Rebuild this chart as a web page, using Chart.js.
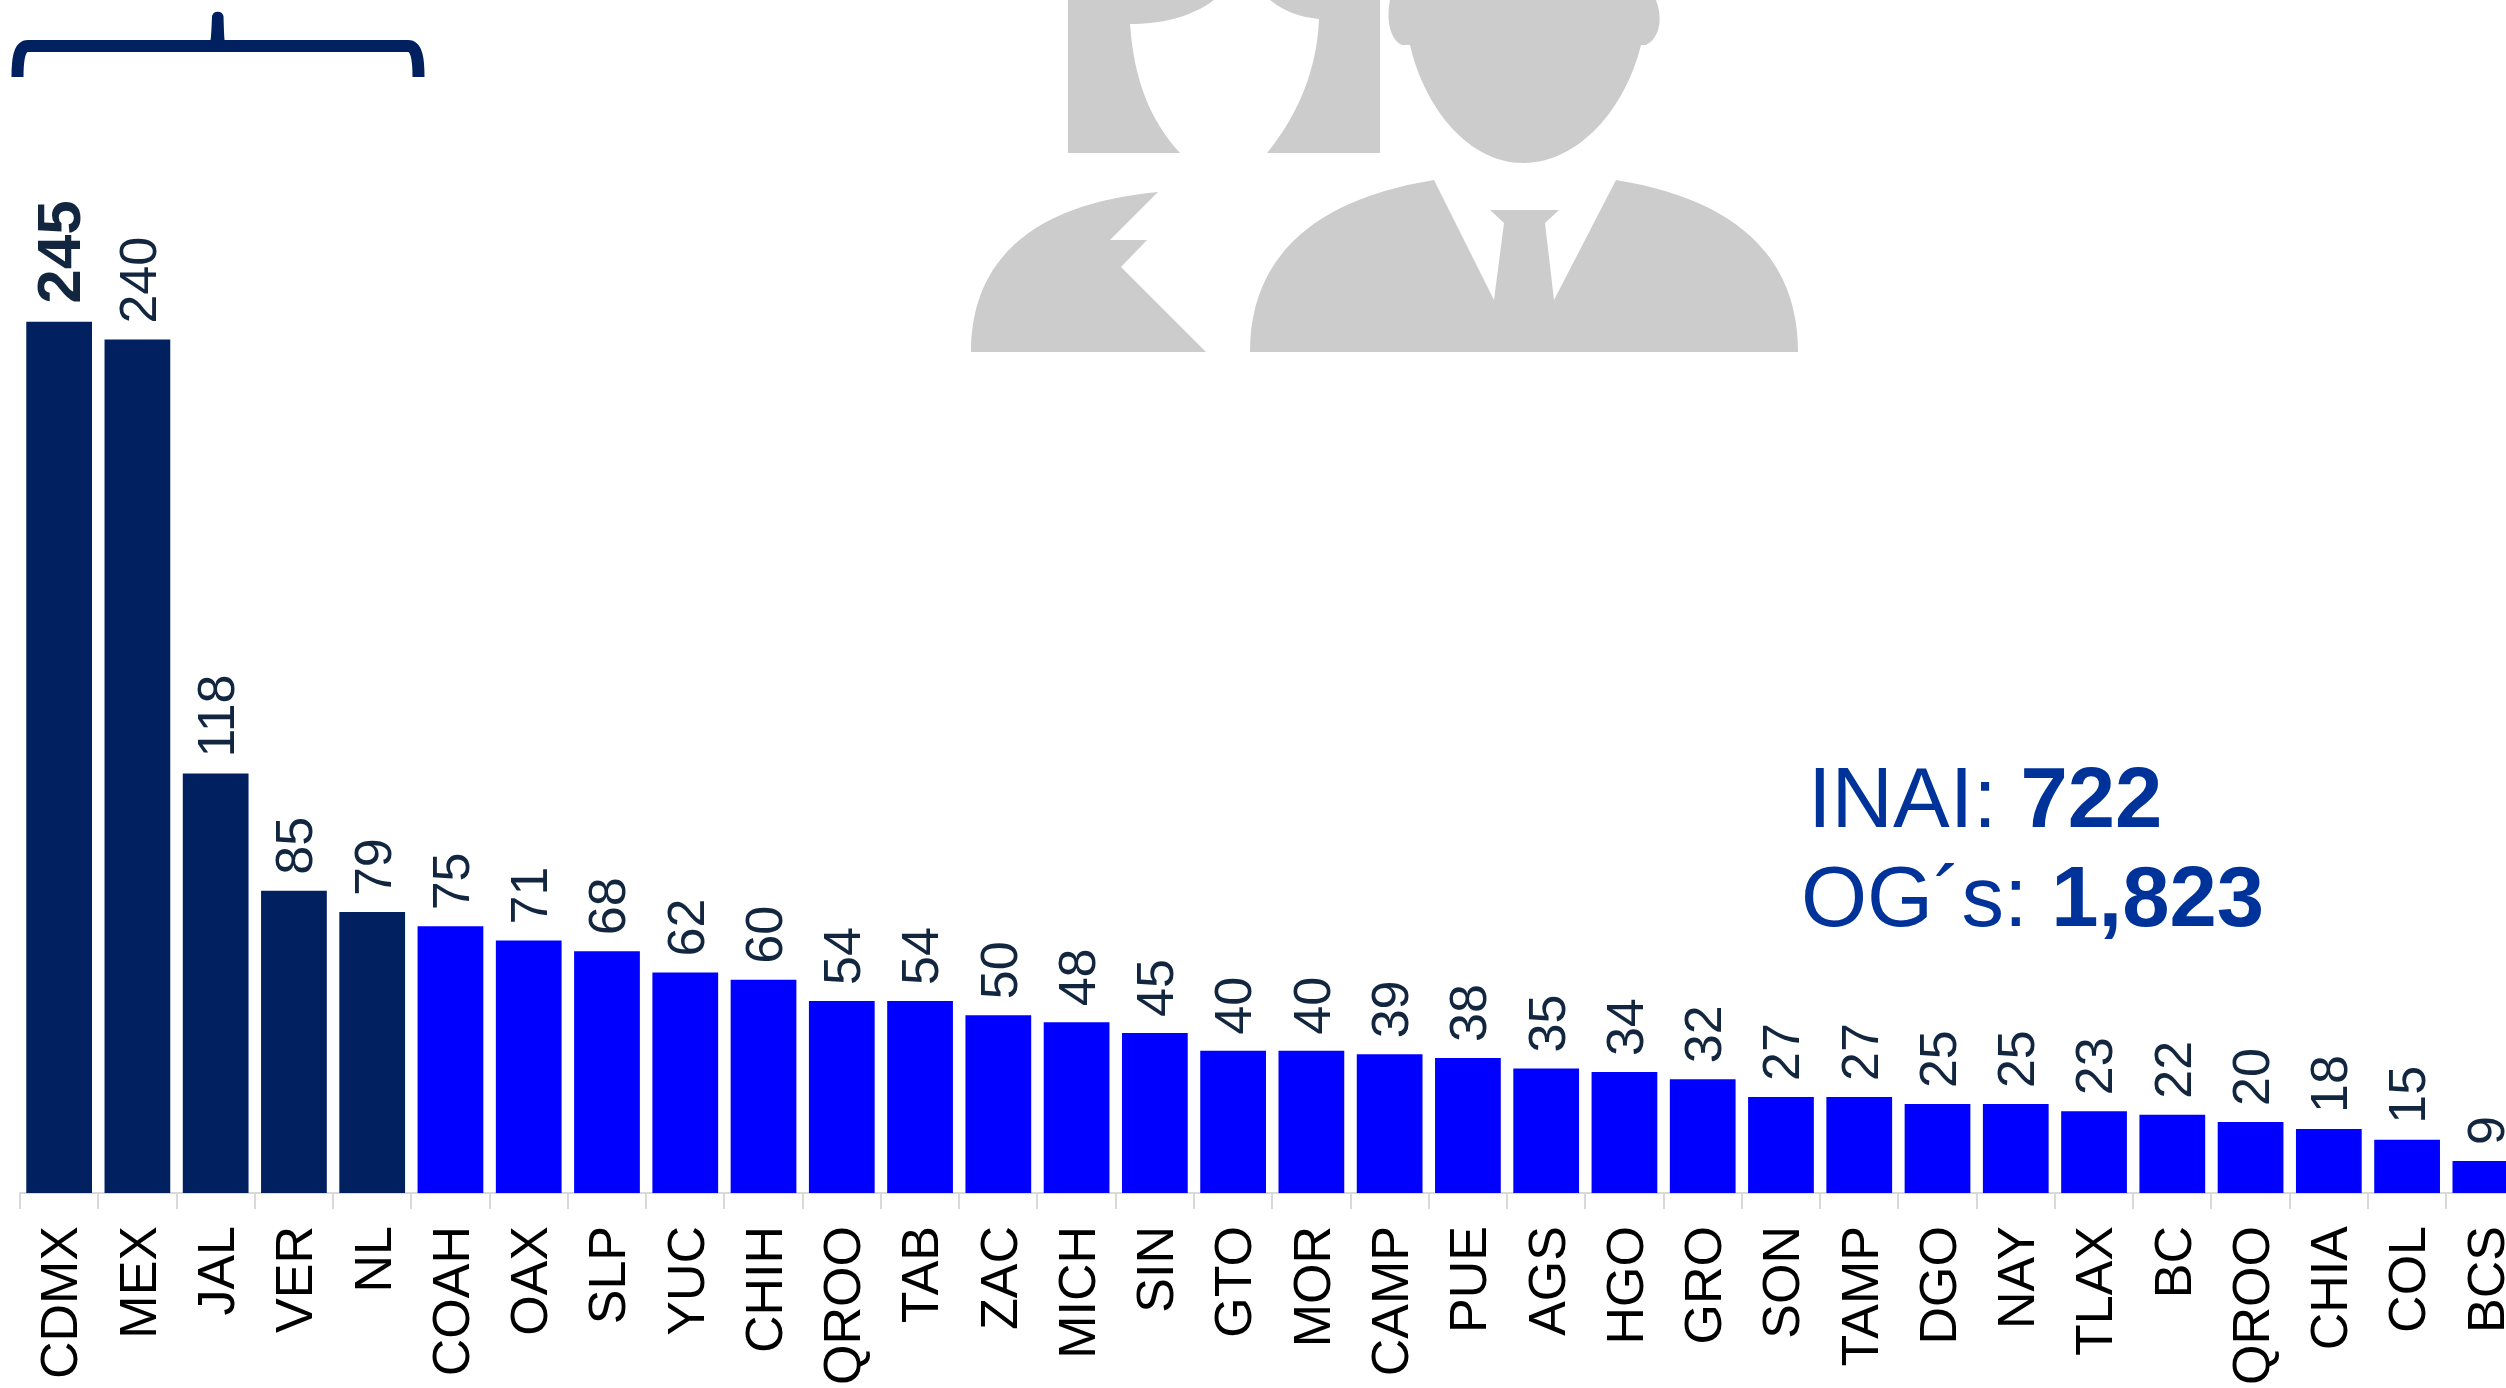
<!DOCTYPE html>
<html lang="es">
<head>
<meta charset="utf-8">
<title>Solicitudes por entidad</title>
<script src="https://cdn.jsdelivr.net/npm/chart.js@4"></script>
<style>
  html, body { margin: 0; padding: 0; background: #fff; }
  body { position: relative; width: 2506px; height: 1388px; overflow: hidden; font-family: "Liberation Sans", Arial, sans-serif; }
  #chart { position: absolute; left: 0; top: 0; }
  #deco { position: absolute; left: 0; top: 0; }
  .total { position: absolute; font-size: 85px; color: #003399; white-space: nowrap; }
  .total b { font-weight: bold; }
</style>
</head>
<body>
<canvas id="chart" width="2560" height="1388"></canvas>

<!-- iconos y llave de arriba -->
<svg id="deco" width="2506" height="1388" viewBox="0 0 2506 1388">
  <path d="M17.5,77 C17.5,60 19,46 28,46 L408,46 C417,46 418.5,60 418.5,77" fill="none" stroke="#002060" stroke-width="12"/>
  <path d="M208,52 L227,52 C224,45 224,30 223.5,16 A6,6 0 0 0 212,16 C211.5,30 211,45 208,52 Z" fill="#002060"/>
  <g fill="#cccccc">
    <path d="M1068,0 L1214,0 C1190,18 1160,24 1130,24 C1134,80 1150,120 1180,153 L1068,153 Z"/>
    <path d="M1270,0 C1285,12 1300,17 1319,19 C1317,70 1298,115 1267,153 L1380,153 L1380,0 Z"/>
    <path d="M971,352 C971,270 1020,205 1158,192 L1110,240 L1147,240 L1121,267 L1206,352 Z"/>
    <path d="M1390,0 C1386,20 1390,40 1402,45 L1410,45 C1425,110 1470,163 1523,163 C1578,163 1625,110 1641,45 L1646,45 C1660,38 1663,18 1656,0 Z"/>
    <path d="M1250,352 C1250,260 1310,200 1434,180 L1494,300 L1504,223 L1490,210 L1559,210 L1545,223 L1554,300 L1616,180 C1740,200 1798,260 1798,352 Z"/>
  </g>
</svg>

<div class="total" style="left:1808px;top:749px">INAI: <b>722</b></div>
<div class="total" style="left:1801px;top:848px">OG´s: <b>1,823</b></div>

<script>
const estados = ['CDMX', 'MEX', 'JAL', 'VER', 'NL', 'COAH', 'OAX', 'SLP', 'YUC', 'CHIH', 'QROO', 'TAB', 'ZAC', 'MICH', 'SIN', 'GTO',
    'MOR', 'CAMP', 'PUE', 'AGS', 'HGO', 'GRO', 'SON', 'TAMP', 'DGO', 'NAY', 'TLAX', 'BC', 'QROO', 'CHIA', 'COL', 'BCS'];
const valores = [245, 240, 118, 85, 79, 75, 71, 68, 62, 60, 54, 54, 50, 48, 45, 40,
    40, 39, 38, 35, 34, 32, 27, 27, 25, 25, 23, 22, 20, 18, 15, 9];

// los primeros cinco van en azul oscuro
const topCount = 5;
const yMax = 335.5;

// etiquetas de valor rotadas encima de cada barra
const valueLabels = {
    id: 'valueLabels',
    afterDatasetsDraw(chart) {
        const ctx = chart.ctx;
        chart.getDatasetMeta(0).data.forEach((bar, i) => {
            const first = i === 0;
            ctx.save();
            ctx.translate(bar.x, bar.y - (first ? 18 : 16));
            ctx.rotate(-Math.PI / 2);
            ctx.font = (first ? 'bold 62px' : '52px') + ' "Liberation Sans", Arial, sans-serif';
            ctx.fillStyle = '#12263f';
            ctx.textAlign = 'left';
            ctx.textBaseline = 'middle';
            ctx.fillText(valores[i], 0, 4);
            ctx.restore();
        });
    }
};

new Chart(document.getElementById('chart').getContext('2d'), {
    type: 'bar',
    data: {
        labels: estados,
        datasets: [{
            data: valores,
            backgroundColor: valores.map((v, i) => i < topCount ? '#002060' : '#0000ff'),
            barPercentage: 0.84,
            categoryPercentage: 1
        }]
    },
    options: {
        responsive: false,
        animation: false,
        layout: { padding: { left: 20, right: 35.5, top: 0, bottom: 0 } },
        plugins: { legend: { display: false }, tooltip: { enabled: false } },
        scales: {
            x: {
                afterFit: scale => {
                    scale.height = 195;
                    // sin esto el ancho lo fija la ultima etiqueta
                    scale.paddingLeft = 0;
                    scale.paddingRight = 0;
                },
                border: { color: '#d9d9d9', width: 2 },
                grid: { drawOnChartArea: false, offset: true, color: '#d9d9d9', lineWidth: 2, tickLength: 16 },
                ticks: {
                    autoSkip: false,
                    minRotation: 90,
                    maxRotation: 90,
                    padding: 17,
                    labelOffset: 4,
                    color: '#000000',
                    font: { family: '"Liberation Sans", Arial, sans-serif', size: 52 }
                }
            },
            y: { display: false, min: 0, max: yMax }
        }
    },
    plugins: [valueLabels]
});
</script>
</body>
</html>
